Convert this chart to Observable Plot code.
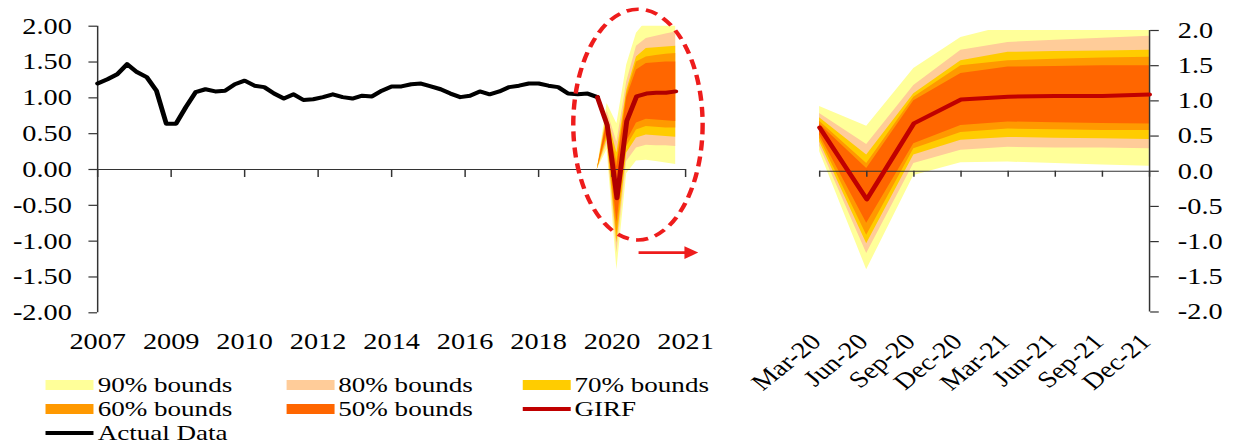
<!DOCTYPE html>
<html>
<head>
<meta charset="utf-8">
<script src="https://cdn.jsdelivr.net/npm/d3@7"></script>
<script src="https://cdn.jsdelivr.net/npm/@observablehq/plot@0.6"></script>
<style>
  html, body { margin: 0; padding: 0; background: #fff; overflow: hidden; }
  #stage { position: absolute; left: 0; top: 0; width: 1010.6px; height: 445px;
           transform: scaleX(1.23); transform-origin: 0 0;
           font-family: "Liberation Serif", "Times New Roman", serif; color: #000; }
  #left { position: absolute; left: 0; top: 0; }
  #right { position: absolute; left: 620px; top: 0; }
  .item { position: absolute; height: 24px; display: flex; align-items: center;
          font-size: 22px; white-space: nowrap; }
  .sw { display: inline-block; width: 39px; margin-right: 3px; }
</style>
</head>
<body>
<div id="stage">
  <div id="left"></div>
  <div id="right"></div>
  <div id="legend"></div>
</div>
<script>
// ---------- data ----------
// Actual data, quarterly 2007Q1 .. 2019Q4
const actualData = [
  1.20, 1.26, 1.33, 1.47, 1.36, 1.29, 1.10, 0.64, 0.64, 0.87,
  1.08, 1.12, 1.09, 1.10, 1.19, 1.24, 1.17, 1.15, 1.06, 0.99,
  1.05, 0.97, 0.98, 1.01, 1.05, 1.01, 0.99, 1.03, 1.02, 1.10,
  1.16, 1.16, 1.19, 1.20, 1.16, 1.12, 1.06, 1.01, 1.03, 1.09,
  1.05, 1.09, 1.15, 1.17, 1.20, 1.20, 1.17, 1.15, 1.06, 1.05,
  1.06, 1.01
];
// GIRF horizon (quarters)
const quarterLabels = ["Mar-20","Jun-20","Sep-20","Dec-20","Mar-21","Jun-21","Sep-21","Dec-21"];
const girf  = [0.62, -0.40, 0.68, 1.02, 1.06, 1.07, 1.07, 1.09];
const hi90  = [0.92,  0.64, 1.46, 1.90, 2.07, 2.08, 2.08, 2.08];
const lo90  = [0.28, -1.40, -0.06, 0.12, 0.13, 0.11, 0.09, 0.07];
const hi80  = [0.82,  0.38, 1.22, 1.72, 1.83, 1.86, 1.89, 1.92];
const lo80  = [0.36, -1.17, 0.11, 0.30, 0.34, 0.33, 0.33, 0.32];
const hi70  = [0.76,  0.23, 1.10, 1.57, 1.69, 1.70, 1.71, 1.72];
const lo70  = [0.42, -1.03, 0.23, 0.44, 0.48, 0.47, 0.46, 0.45];
const hi60  = [0.71,  0.11, 1.05, 1.50, 1.57, 1.59, 1.61, 1.62];
const lo60  = [0.47, -0.91, 0.32, 0.55, 0.60, 0.59, 0.58, 0.58];
const hi50  = [0.67,  0.04, 1.00, 1.39, 1.48, 1.49, 1.50, 1.50];
const lo50  = [0.52, -0.74, 0.39, 0.65, 0.70, 0.69, 0.68, 0.67];

const yearTickPositions = [0, 7.5, 15, 22.5, 30, 37.5, 45, 52.5, 60];
const yearTickLabels = ["2007","2009","2010","2012","2014","2016","2018","2020","2021"];
const yTicks = [2, 1.5, 1, 0.5, 0, -0.5, -1, -1.5, -2];

const legendLabels = ["90% bounds","80% bounds","70% bounds","60% bounds","50% bounds","GIRF","Actual Data"];
const legendColors = ["#FFFF99","#FFCC99","#FFCC00","#FF9900","#FF6600","#C00000","#000000"];
const legendKinds  = ["box","box","box","box","box","line","line"];

// annotation (data units of the left panel): ellipse centre/radii, arrow
const ellipseCenter = [55.2, 0.62];
const ellipseRadii  = [6.6, 1.61];
const arrowFrom = [55.2, -1.16];
const arrowTo   = [60.0, -1.16];
const arrowHead = [60.35, -1.16];

// ---------- derived tables ----------
const bandColors = ["#FFFF99","#FFCC99","#FFCC00","#FF9900","#FF6600"];
const levels = [[lo90,hi90],[lo80,hi80],[lo70,hi70],[lo60,hi60],[lo50,hi50]]
  .map(([lo,hi], j) => ({lo, hi, color: bandColors[j]}));
const n0 = actualData.length; // first forecast index
const actualRows = actualData.map((v, i) => ({x: i, v}));
const girfLeftRows = [{x: n0 - 1, v: actualData[n0 - 1]}, ...girf.map((v, k) => ({x: n0 + k, v}))];
const girfRightRows = girf.map((v, k) => ({x: k, v}));
const quarterIdx = quarterLabels.map((q, k) => k);

const axisColor = "#333";
const baseStyle = {fontFamily: "Liberation Serif, Times New Roman, serif", fontSize: "23px",
                   color: "#000", background: "transparent", overflow: "visible"};

// ---------- left panel ----------
const leftPlot = Plot.plot({
  width: 600, height: 400,
  marginLeft: 78.9, marginRight: 43.1, marginTop: 25.7, marginBottom: 87.7,
  style: baseStyle,
  x: {domain: [0, 60], label: null},
  y: {domain: [-2, 2], label: null},
  marks: [
    ...levels.map(L => Plot.areaY(
      [{x: n0 - 1, lo: 0, hi: 0}, ...L.lo.map((lo, k) => ({x: n0 + k, lo, hi: L.hi[k]}))],
      {x: "x", y1: "lo", y2: "hi", fill: L.color, clip: true})),
    Plot.ruleY([0], {stroke: axisColor, strokeWidth: 1.2}),
    Plot.ruleX(yearTickPositions, {x: d => d, y1: 0, y2: 0, insetBottom: -8, stroke: axisColor, strokeWidth: 1.2}),
    Plot.ruleX([0], {stroke: axisColor, strokeWidth: 1.2}),
    Plot.axisY({ticks: yTicks, tickFormat: d => d.toFixed(2), tickSize: 7, tickPadding: 14,
                stroke: axisColor, strokeWidth: 1.2, label: null}),
    Plot.axisX({ticks: yearTickPositions, tickFormat: d => yearTickLabels[yearTickPositions.indexOf(d)],
                tickSize: 0, tickPadding: 20, label: null}),
    Plot.line(actualRows, {x: "x", y: "v", stroke: "#000", strokeWidth: 4, strokeLinejoin: "round"}),
    Plot.line(girfLeftRows, {x: "x", y: "v", stroke: "#B00000", strokeWidth: 4, strokeLinejoin: "round"}),
    Plot.link([0], {x1: () => arrowFrom[0], y1: () => arrowFrom[1], x2: () => arrowTo[0], y2: () => arrowTo[1],
                    stroke: "#EE1C1C", strokeWidth: 2.6}),
    Plot.dot([0], {x: () => arrowHead[0], y: () => arrowHead[1], symbol: "triangle", rotate: 90,
                   r: 4.8, fill: "#EE1C1C", stroke: "none"})
  ]
});
{
  const sx = leftPlot.scale("x"), sy = leftPlot.scale("y");
  const cx = sx.apply(ellipseCenter[0]), cy = sy.apply(ellipseCenter[1]);
  const rx = Math.abs(sx.apply(ellipseCenter[0] + ellipseRadii[0]) - cx);
  const ry = Math.abs(sy.apply(ellipseCenter[1] + ellipseRadii[1]) - cy);
  const el = document.createElementNS("http://www.w3.org/2000/svg", "ellipse");
  el.setAttribute("cx", cx); el.setAttribute("cy", cy);
  el.setAttribute("rx", rx); el.setAttribute("ry", ry);
  el.setAttribute("fill", "none"); el.setAttribute("stroke", "#EE1C1C");
  el.setAttribute("stroke-width", 3.6); el.setAttribute("stroke-dasharray", "10,6");
  leftPlot.appendChild(el);
}
document.getElementById("left").appendChild(leftPlot);

// ---------- right panel ----------
const rightPlot = Plot.plot({
  width: 390.6, height: 400,
  marginLeft: 45.9, marginRight: 76.5, marginTop: 30, marginBottom: 88.5,
  style: baseStyle,
  x: {domain: [0, quarterLabels.length - 1], label: null},
  y: {domain: [-2, 2], label: null},
  marks: [
    ...levels.map(L => Plot.areaY(
      L.lo.map((lo, k) => ({x: k, lo, hi: L.hi[k]})),
      {x: "x", y1: "lo", y2: "hi", fill: L.color, clip: true})),
    Plot.ruleY([0], {stroke: axisColor, strokeWidth: 1.2}),
    Plot.ruleX(quarterIdx, {x: d => d, y1: 0, y2: 0, insetBottom: -6, stroke: axisColor, strokeWidth: 1.2}),
    Plot.ruleX([quarterLabels.length - 1], {stroke: axisColor, strokeWidth: 1.2}),
    Plot.axisY({anchor: "right", ticks: yTicks, tickFormat: d => d.toFixed(1), tickSize: 7, tickPadding: 16,
                stroke: axisColor, strokeWidth: 1.2, label: null}),
    Plot.axisX({ticks: quarterIdx, tickFormat: d => quarterLabels[d], tickRotate: -45,
                tickSize: 0, tickPadding: 26, dx: -3, label: null}),
    Plot.line(girfRightRows, {x: "x", y: "v", stroke: "#C00000", strokeWidth: 4, strokeLinejoin: "round"})
  ]
});
document.getElementById("right").appendChild(rightPlot);

// ---------- legend ----------
const legendCols = [37.4, 233, 425];
const legendRows = [385, 409, 433];
const legend = document.getElementById("legend");
legendLabels.forEach((lab, i) => {
  const col = i % 3, row = Math.floor(i / 3);
  const item = document.createElement("div");
  item.className = "item";
  item.style.left = legendCols[col] + "px";
  item.style.top = (legendRows[row] - 12) + "px";
  const sw = document.createElement("span");
  sw.className = "sw";
  sw.style.background = legendColors[i];
  sw.style.height = legendKinds[i] === "box" ? "10px" : "3.5px";
  item.appendChild(sw);
  item.appendChild(document.createTextNode(lab));
  legend.appendChild(item);
});
</script>
</body>
</html>
